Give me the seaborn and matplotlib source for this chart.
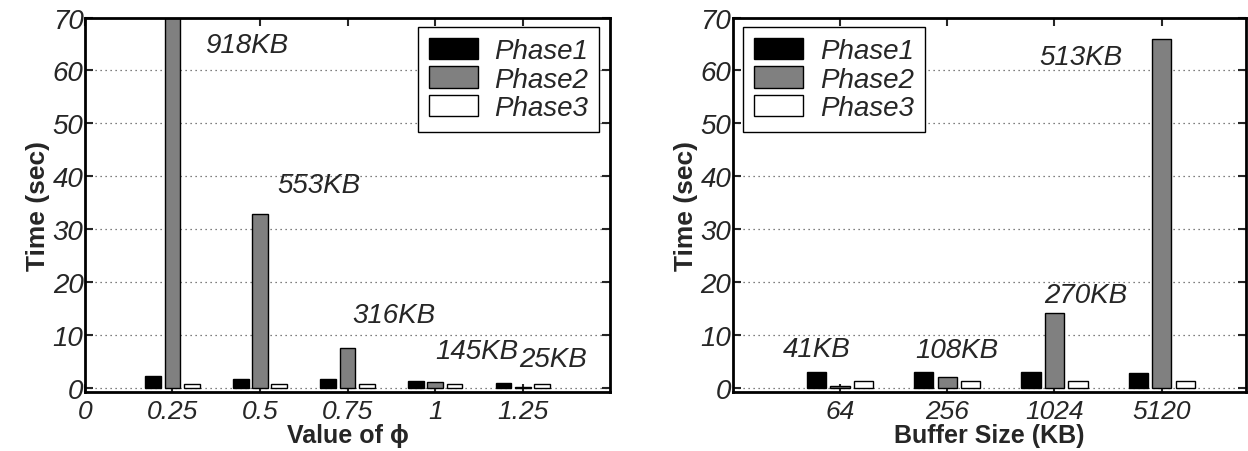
import numpy as np
import pandas as pd
import matplotlib
matplotlib.use("Agg")
import matplotlib.pyplot as plt
import seaborn as sns
from matplotlib.patches import Patch

# Data
phases = ["Phase1", "Phase2", "Phase3"]

phi_labels = ["0.25", "0.5", "0.75", "1", "1.25"]
phi_phase1 = [2.2, 1.7, 1.7, 1.4, 0.9]
phi_phase2 = [75.0, 32.8, 7.5, 1.1, 0.1]
phi_phase3 = [0.8, 0.7, 0.7, 0.7, 0.7]
phi_sizes = ["918KB", "553KB", "316KB", "145KB", "25KB"]

buf_labels = ["64", "256", "1024", "5120"]
buf_phase1 = [3.0, 3.0, 3.0, 2.9]
buf_phase2 = [0.3, 2.1, 14.2, 66.0]
buf_phase3 = [1.3, 1.3, 1.3, 1.3]
buf_sizes = ["41KB", "108KB", "270KB", "513KB"]

colors = {"Phase1": "#000000", "Phase2": "#808080", "Phase3": "#ffffff"}

sns.set_style("white")
plt.rcParams["font.family"] = ["Liberation Sans", "DejaVu Sans"]

FS = 20


def long_form(labels, p1, p2, p3):
    rows = []
    for lab, a, b, c in zip(labels, p1, p2, p3):
        rows.append((lab, "Phase1", a))
        rows.append((lab, "Phase2", b))
        rows.append((lab, "Phase3", c))
    return pd.DataFrame(rows, columns=["x", "phase", "time"])


phi_df = long_form(phi_labels, phi_phase1, phi_phase2, phi_phase3)
buf_df = long_form(buf_labels, buf_phase1, buf_phase2, buf_phase3)

fig = plt.figure(figsize=(12.48, 4.52), dpi=100)
ax1 = fig.add_axes([0.068, 0.13, 0.421, 0.829])
ax2 = fig.add_axes([0.587, 0.13, 0.411, 0.829])


def draw(ax, df, order):
    sns.barplot(data=df, x="x", y="time", hue="phase", order=order,
                hue_order=phases, palette=colors, width=0.66, gap=0.18,
                edgecolor="black", linewidth=1.0, legend=False, ax=ax)
    ax.set_ylim(-0.8, 70)
    ax.set_yticks(range(0, 71, 10))
    ax.set_yticklabels([str(v) for v in range(0, 71, 10)], fontsize=FS, style="italic")
    ax.yaxis.grid(True, linestyle=(0, (1, 3)), color="#555555", linewidth=0.9)
    ax.set_axisbelow(True)
    ax.set_ylabel("Time (sec)", fontsize=19, fontweight="bold", labelpad=2)
    for s in ax.spines.values():
        s.set_linewidth(2.0)
        s.set_color("black")
    ax.tick_params(axis="both", direction="in", length=6, width=1.5,
                   top=True, right=True, bottom=True, left=True)
    ax.tick_params(axis="y", pad=1)
    ax.tick_params(axis="x", pad=5)
    handles = [Patch(facecolor=colors[p], edgecolor="black", linewidth=1.0) for p in phases]
    return handles


legend_kw = dict(frameon=True, fancybox=False, edgecolor="black", framealpha=1,
                 handlelength=1.75, handleheight=0.8, labelspacing=0.08,
                 borderpad=0.4, handletextpad=0.6, borderaxespad=0.2,
                 prop={"style": "italic", "size": FS})

# Left panel: value of phi
h = draw(ax1, phi_df, phi_labels)
ax1.set_xlim(-1, 5)
ax1.set_xticks(range(-1, 5))
ax1.set_xticklabels(["0"] + phi_labels, fontsize=19, style="italic")
ax1.set_xlabel("Value of ϕ", fontsize=18, fontweight="bold", labelpad=0)
phi_text_pos = [(0.37, 64.8), (1.20, 38.4), (2.06, 13.8), (3.0, 6.9), (3.96, 5.4)]
for (tx, ty), t in zip(phi_text_pos, phi_sizes):
    ax1.text(tx, ty, t, fontsize=FS, style="italic", va="center", ha="left")
ax1.legend(h, phases, loc="upper right", bbox_to_anchor=(0.99, 0.99), **legend_kw)
ax1.get_legend().get_frame().set_linewidth(1.0)

# Right panel: buffer size
h = draw(ax2, buf_df, buf_labels)
ax2.set_xlim(-1, 3.78)
ax2.set_xticks(range(0, 4))
ax2.set_xticklabels(buf_labels, fontsize=19, style="italic")
ax2.set_xlabel("Buffer Size (KB)", fontsize=18, fontweight="bold", labelpad=0)
buf_text_pos = [(-0.53, 7.3), (0.70, 7.2), (1.90, 17.5), (1.86, 62.6)]
for (tx, ty), t in zip(buf_text_pos, buf_sizes):
    ax2.text(tx, ty, t, fontsize=FS, style="italic", va="center", ha="left")
ax2.legend(h, phases, loc="upper left", bbox_to_anchor=(0.01, 0.99), **legend_kw)
ax2.get_legend().get_frame().set_linewidth(1.0)

fig.savefig("out.png", dpi=100)
